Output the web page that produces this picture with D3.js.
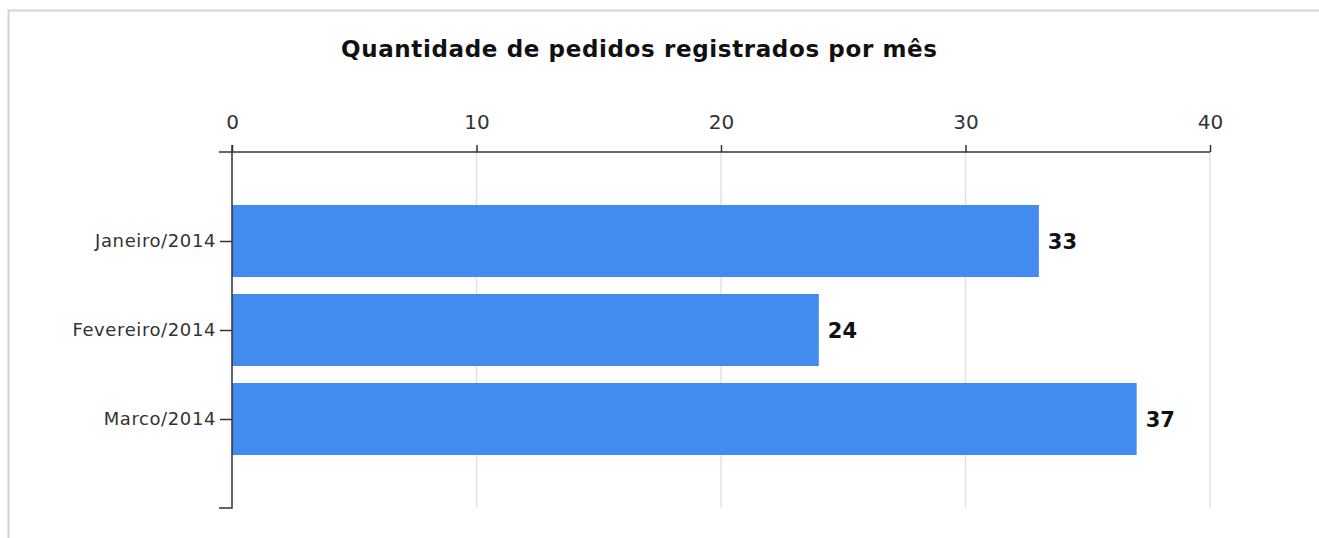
<!DOCTYPE html>
<html>
<head>
<meta charset="utf-8">
<script src="https://cdn.jsdelivr.net/npm/d3@7"></script>
<style>
  body { margin: 0; background: #fff; }
  svg { display: block; font-family: "DejaVu Sans", sans-serif; }
</style>
</head>
<body>
<svg id="viz"></svg>
<script>
const width = 1319;
const height = 538;
const svg = d3.select("#viz").attr("width", width).attr("height", height);

// data
const months = ["Janeiro/2014", "Fevereiro/2014", "Marco/2014"];
const pedidos = [33, 24, 37];
const xTicks = [0, 10, 20, 30, 40];
const title = "Quantidade de pedidos registrados por mês";

const plotLeft = 232, plotRight = 1210, plotTop = 152, plotBottom = 508;

// frame
svg.append("rect")
  .attr("x", 8.5).attr("y", 10.5)
  .attr("width", width).attr("height", height)
  .attr("fill", "none").attr("stroke", "#d4d4d4").attr("stroke-width", 2);

const x = d3.scaleLinear().domain([0, 40]).range([plotLeft, plotRight]);
const y = d3.scalePoint().domain(months).range([plotTop, plotBottom]).padding(1);
const barH = 72;

// gridlines
svg.append("g")
  .selectAll("line")
  .data(xTicks.slice(1))
  .join("line")
  .attr("x1", d => x(d)).attr("x2", d => x(d))
  .attr("y1", plotTop).attr("y2", plotBottom)
  .attr("stroke", "#e3e3e3").attr("stroke-width", 1.5);

// bars
svg.append("g")
  .selectAll("rect")
  .data(pedidos)
  .join("rect")
  .attr("x", x(0))
  .attr("y", (d, i) => y(months[i]) - barH / 2)
  .attr("width", d => x(d) - x(0))
  .attr("height", barH)
  .attr("fill", "#428bef");

// value labels
svg.append("g")
  .selectAll("text")
  .data(pedidos)
  .join("text")
  .attr("x", d => x(d) + 9)
  .attr("y", (d, i) => y(months[i]))
  .attr("dy", "0.36em")
  .attr("font-size", 21)
  .attr("font-weight", "bold")
  .attr("fill", "#111")
  .text(d => d);

// top axis
const xAxis = d3.axisTop(x).tickValues(xTicks).tickSize(7).tickPadding(16);
const gx = svg.append("g").attr("transform", `translate(0,${plotTop})`).call(xAxis);
gx.select(".domain").attr("d", `M${plotLeft - 13},0H${plotRight}`);
gx.selectAll("path, line").attr("stroke", "#333").attr("stroke-width", 1.5);
gx.selectAll("text").attr("font-size", 20).attr("fill", "#333")
  .attr("font-family", "DejaVu Sans, sans-serif");

// left axis
const yAxis = d3.axisLeft(y).tickSize(12).tickPadding(4);
const gy = svg.append("g").attr("transform", `translate(${plotLeft},0)`).call(yAxis);
gy.select(".domain").attr("d", `M0,${plotTop - 7}V${plotBottom}H-13`);
gy.selectAll("path, line").attr("stroke", "#333").attr("stroke-width", 1.5);
gy.selectAll("text").attr("font-size", 18).attr("fill", "#333")
  .attr("letter-spacing", 0.6)
  .attr("dy", "0.3em")
  .attr("font-family", "DejaVu Sans, sans-serif");

// title
svg.append("text")
  .attr("x", 341).attr("y", 57)
  .attr("textLength", 596)
  .attr("lengthAdjust", "spacing")
  .attr("font-size", 23)
  .attr("font-weight", "bold")
  .attr("fill", "#111")
  .text(title);
</script>
</body>
</html>
